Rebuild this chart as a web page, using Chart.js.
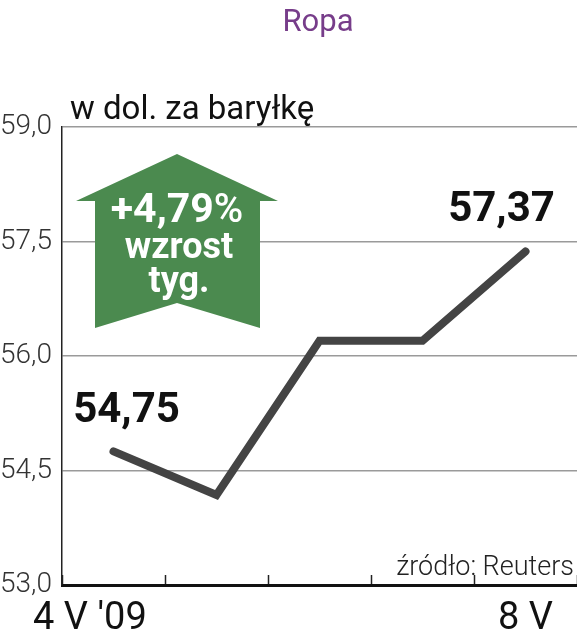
<!DOCTYPE html>
<html>
<head>
<meta charset="utf-8">
<script src="https://cdn.jsdelivr.net/npm/chart.js@4"></script>
<style>
html, body { margin: 0; padding: 0; background: #fff; }
#contenedor { width: 577px; height: 640px; position: relative; }
</style>
</head>
<body>
<div id="contenedor"><canvas id="grafica"></canvas></div>
<script>
// dane
const dni = ['4 V \'09', '5 V', '6 V', '7 V', '8 V'];
const etykietyOsi = ['4 V \'09', '', '', '', '8 V'];
const cenyRopy = [54.75, 54.18, 56.20, 56.20, 57.37];
const podzialkaY = [53.0, 54.5, 56.0, 57.5, 59.0];

const tytul = 'Ropa';
const jednostka = 'w dol. za baryłkę';
const zrodlo = 'źródło: Reuters';

function przecinek(v, d) {
    return v.toFixed(d).replace('.', ',');
}

const zmiana = (cenyRopy[cenyRopy.length - 1] / cenyRopy[0] - 1) * 100;

const rysunki = {
    id: 'rysunki',
    beforeDatasetsDraw(chart) {
        const ctx = chart.ctx;
        // strzalka
        ctx.save();
        ctx.fillStyle = '#4b8a4f';
        ctx.beginPath();
        ctx.moveTo(177, 154);
        ctx.lineTo(278, 201);
        ctx.lineTo(260, 201);
        ctx.lineTo(260, 328);
        ctx.lineTo(177, 303);
        ctx.lineTo(95, 328);
        ctx.lineTo(95, 201);
        ctx.lineTo(76, 201);
        ctx.closePath();
        ctx.fill();
        ctx.fillStyle = '#fff';
        ctx.textBaseline = 'alphabetic';
        ctx.font = 'bold 41px Roboto';
        const txt = '+' + przecinek(zmiana, 2);
        const w1 = ctx.measureText(txt).width;
        ctx.font = '500 40px Roboto';
        const w2 = ctx.measureText('%').width;
        const x0 = 177 - (w1 + w2) / 2;
        ctx.textAlign = 'left';
        ctx.font = 'bold 41px Roboto';
        ctx.fillText(txt, x0, 222);
        ctx.font = '500 40px Roboto';
        ctx.fillText('%', x0 + w1, 222);
        ctx.textAlign = 'center';
        ctx.font = 'bold 36px Roboto';
        ctx.fillText('wzrost', 179, 258);
        ctx.fillText('tyg.', 179, 292);
        ctx.restore();
    },
    afterDraw(chart) {
        const ctx = chart.ctx;
        const pts = chart.getDatasetMeta(0).data;
        ctx.save();
        ctx.textBaseline = 'alphabetic';
        ctx.textAlign = 'center';
        ctx.fillStyle = '#773d8a';
        ctx.font = '31px Roboto';
        ctx.fillText(tytul, 318, 31);
        ctx.fillStyle = '#111';
        ctx.textAlign = 'left';
        ctx.font = '33px Roboto';
        ctx.fillText(jednostka, 70, 119);
        ctx.textAlign = 'right';
        ctx.font = '300 27px Roboto';
        ctx.fillStyle = '#222';
        ctx.fillText(zrodlo, 574, 575);
        // wartosci
        ctx.fillStyle = '#111';
        ctx.textAlign = 'center';
        ctx.font = 'bold 42px Roboto';
        const a = pts[0], b = pts[pts.length - 1];
        ctx.fillText(przecinek(cenyRopy[0], 2), a.x + 13, a.y - 29);
        ctx.fillText(przecinek(cenyRopy[cenyRopy.length - 1], 2), b.x - 24, b.y - 30);
        ctx.restore();
    }
};

const config = {
    type: 'line',
    data: {
        labels: dni,
        datasets: [{
            data: cenyRopy,
            borderColor: '#444',
            borderWidth: 8,
            borderCapStyle: 'round',
            borderJoinStyle: 'miter',
            pointRadius: 0,
            tension: 0
        }]
    },
    options: {
        responsive: true,
        maintainAspectRatio: false,
        animation: false,
        layout: { padding: { top: 127, right: 0, left: 0, bottom: 0 } },
        plugins: { legend: { display: false }, tooltip: { enabled: false } },
        scales: {
            x: {
                offset: true,
                grid: {
                    offset: true,
                    drawOnChartArea: false,
                    drawTicks: true,
                    tickLength: -10,
                    tickWidth: 1.5,
                    tickColor: '#222'
                },
                border: { color: '#111', width: 3 },
                ticks: {
                    autoSkip: false,
                    maxRotation: 0,
                    padding: 22,
                    color: '#111',
                    font: { family: 'Roboto', size: 38 },
                    // pierwsza etykieta przesunieta w lewo
                    callback: (v, i) => i === 0 ? etykietyOsi[i] + '\u00a0\u00a0\u00a0\u00a0\u00a0' : etykietyOsi[i]
                },
                afterFit: (s) => { s.height = 55; }
            },
            y: {
                min: 53,
                max: 59,
                afterBuildTicks: (s) => { s.ticks = podzialkaY.map(v => ({ value: v })); },
                grid: { color: '#9a9a9a', lineWidth: 1.5, drawTicks: false },
                border: { color: '#222', width: 1.5 },
                ticks: {
                    padding: 10,
                    color: '#333',
                    font: { family: 'Roboto', size: 28, weight: '300' },
                    callback: (v) => przecinek(v, 1)
                },
                afterFit: (s) => { s.width = 62; }
            }
        }
    },
    plugins: [rysunki]
};

window.grafica = new Chart(document.getElementById('grafica'), config);
</script>
</body>
</html>
